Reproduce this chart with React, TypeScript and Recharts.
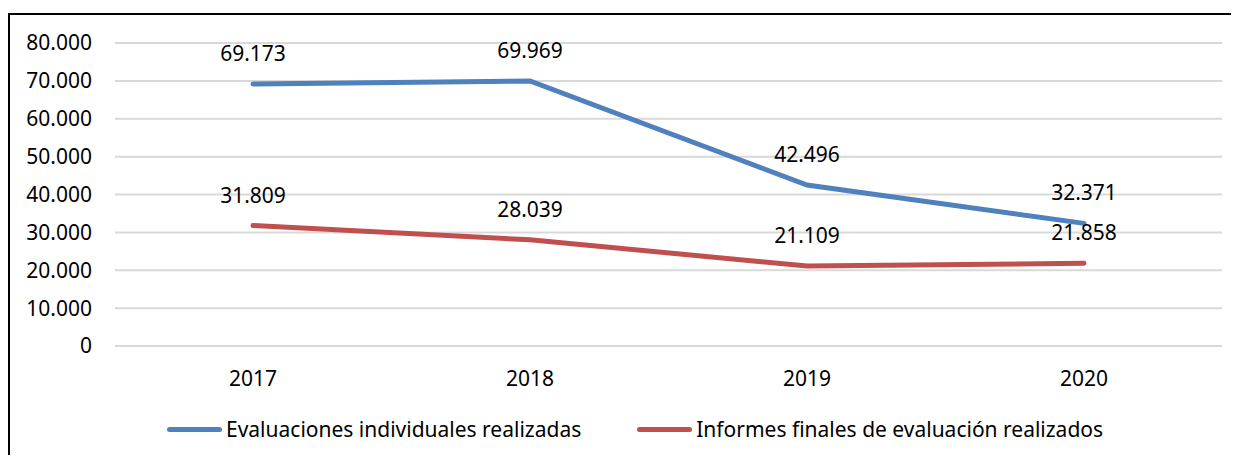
import {
  LineChart,
  Line,
  XAxis,
  YAxis,
  CartesianGrid,
  Legend,
  LabelList,
} from "recharts";

const YEARS = ["2017", "2018", "2019", "2020"];
const EVALUACIONES = [69173, 69969, 42496, 32371];
const INFORMES = [31809, 28039, 21109, 21858];
const Y_TICKS = [0, 10000, 20000, 30000, 40000, 50000, 60000, 70000, 80000];

const SERIES = [
  { key: "evaluaciones", name: "Evaluaciones individuales realizadas", color: "#4f81bd" },
  { key: "informes", name: "Informes finales de evaluación realizados", color: "#c0504d" },
];

const FONT = "'Noto Sans', sans-serif";

const data = YEARS.map((year, i) => ({
  year,
  evaluaciones: EVALUACIONES[i],
  informes: INFORMES[i],
}));

// thousands with a dot, as in the original
const fmt = (v: number) => String(v).replace(/\B(?=(\d{3})+(?!\d))/g, ".");

function LegendBox() {
  return (
    <div style={{ display: "flex", alignItems: "center", fontFamily: FONT, fontSize: 21, color: "#000" }}>
      {SERIES.map((s, i) => (
        <div key={s.key} style={{ display: "flex", alignItems: "center", marginLeft: i === 0 ? 0 : 56 }}>
          <span
            style={{
              display: "inline-block",
              width: 55,
              height: 5,
              borderRadius: 3,
              background: s.color,
              marginRight: 4,
            }}
          />
          <span>{s.name}</span>
        </div>
      ))}
    </div>
  );
}

export default function App() {
  return (
    <div
      style={{
        marginTop: 5,
        width: 1229,
        height: 440,
        borderTop: "2px solid #000",
        borderLeft: "2px solid #000",
        background: "#fff",
      }}
    >
      <LineChart
        width={1229}
        height={438}
        data={data}
        margin={{ top: 28, right: 17, left: 0, bottom: 0 }}
        style={{ fontFamily: FONT }}
      >
        <CartesianGrid vertical={false} stroke="#d9d9d9" strokeWidth={2} />
        <XAxis
          dataKey="year"
          axisLine={false}
          tickLine={false}
          tickSize={0}
          tickMargin={25}
          height={79}
          padding={{ left: 138, right: 138 }}
          tick={{ fontSize: 21, fill: "#000" }}
        />
        <YAxis
          domain={[0, 80000]}
          ticks={Y_TICKS}
          interval={0}
          axisLine={false}
          tickLine={false}
          tickSize={0}
          tickMargin={23}
          width={105}
          tickFormatter={fmt}
          tick={{ fontSize: 21, fill: "#000" }}
        />
        <Legend
          content={<LegendBox />}
          wrapperStyle={{ position: "absolute", left: 157, top: 400, width: "auto" }}
        />
        {SERIES.map((s) => (
          <Line
            key={s.key}
            dataKey={s.key}
            name={s.name}
            type="linear"
            stroke={s.color}
            strokeWidth={5}
            strokeLinecap="round"
            dot={false}
            activeDot={false}
            isAnimationActive={false}
          >
            <LabelList
              dataKey={s.key}
              position="top"
              offset={23}
              formatter={(v: number) => fmt(v)}
              style={{ fontSize: 21, fill: "#000" }}
            />
          </Line>
        ))}
      </LineChart>
    </div>
  );
}
